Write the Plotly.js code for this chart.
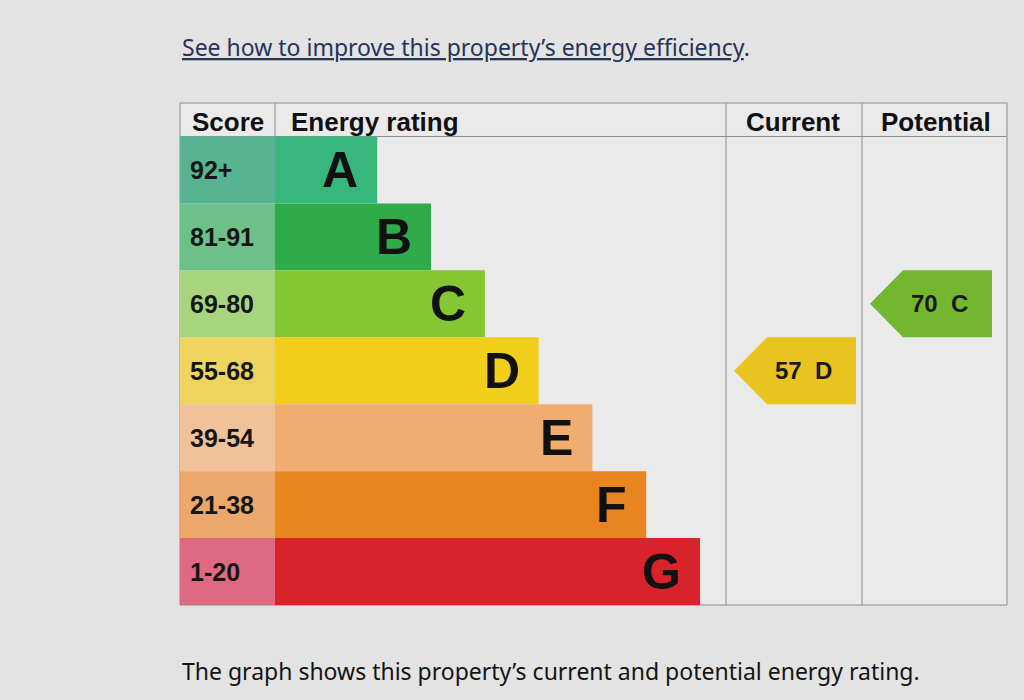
<!DOCTYPE html>
<html>
<head>
<meta charset="utf-8">
<script src="https://cdn.plot.ly/plotly-3.0.1.min.js"></script>
<style>
  html, body { margin: 0; padding: 0; background: #e3e3e3; }
  #chart { width: 1024px; height: 700px; }
</style>
</head>
<body>
<div id="chart"></div>
<script>
// Energy rating bands, top (best) to bottom (worst)
const bands = ['A', 'B', 'C', 'D', 'E', 'F', 'G'];
const scoreRanges = ['92+', '81-91', '69-80', '55-68', '39-54', '21-38', '1-20'];
const bandMinScore = [92, 81, 69, 55, 39, 21, 1];
// relative bar length of each band (steps)
const barLengths = [1.9, 2.9, 3.9, 4.9, 5.9, 6.9, 7.9];
const scoreCell = [1, 1, 1, 1, 1, 1, 1];

const currentScore = 57;
const potentialScore = 70;

const headers = ['Score', 'Energy rating', 'Current', 'Potential'];
const linkText = 'See how to improve this property\u2019s energy efficiency';
const captionText = 'The graph shows this property\u2019s current and potential energy rating.';

// Colours as they appear in the photo
const ratingColors = ['#38b77c', '#2fab4a', '#85c733', '#f1cd1c', '#f1ad70', '#e9851f', '#d8232a'];
const scoreColors  = ['#58b393', '#6cc189', '#a7d57f', '#ecd45e', '#f1c19a', '#eba86a', '#de6a82'];
const arrowColors  = ['#34b075', '#2ca445', '#72b72d', '#e9c41e', '#eda86a', '#e3801e', '#d22228'];

const BOLD = 'Liberation Sans, Arial, sans-serif';
const BODY = 'Noto Sans, sans-serif';
const LINE = '#8c8c8c';

// column domains (paper fractions) and arrow geometry in px-units of the column axes
const D1 = 95 / 827, D2 = 546 / 827, D3 = 682 / 827;
const ARROW = { tip: 8, shoulder: 41, end: 130, textX: 77 };

function bandOf(score) {
    return bandMinScore.findIndex(m => score >= m);
}

function arrowTrace(score, xaxis) {
    const i = bandOf(score);
    return {
        type: 'scatter', mode: 'lines', xaxis: xaxis, yaxis: 'y',
        x: [ARROW.tip, ARROW.shoulder, ARROW.end, ARROW.end, ARROW.shoulder, ARROW.tip],
        y: [i, i - 0.5, i - 0.5, i + 0.5, i + 0.5, i],
        fill: 'toself', fillcolor: arrowColors[i],
        line: { width: 0 }, hoverinfo: 'skip', showlegend: false
    };
}

function arrowLabel(score, xref) {
    const i = bandOf(score);
    return {
        xref: xref, yref: 'y', x: ARROW.textX, y: i,
        text: '<b>' + score + '\u00a0\u00a0' + bands[i] + '</b>',
        showarrow: false, font: { family: BOLD, size: 24, color: '#1a1a1a' }
    };
}

const idx = bands.map((_, i) => i);

const traces = [
    {
        type: 'bar', orientation: 'h', xaxis: 'x', yaxis: 'y',
        x: scoreCell, y: idx, width: 1, base: 0,
        marker: { color: scoreColors, line: { width: 0 } },
        hoverinfo: 'skip', showlegend: false
    },
    {
        type: 'bar', orientation: 'h', xaxis: 'x2', yaxis: 'y',
        x: barLengths, y: idx, width: 1, base: 0,
        marker: { color: ratingColors, line: { width: 0 } },
        hoverinfo: 'skip', showlegend: false
    },
    arrowTrace(currentScore, 'x3'),
    arrowTrace(potentialScore, 'x4')
];

const annotations = [];
bands.forEach((b, i) => {
    annotations.push({
        xref: 'x', yref: 'y', x: 0, y: i, xanchor: 'left', xshift: 8,
        text: '<b>' + scoreRanges[i] + '</b>', showarrow: false,
        font: { family: BOLD, size: 25, color: '#161616' }
    });
    annotations.push({
        xref: 'x2', yref: 'y', x: barLengths[i], y: i, xanchor: 'right', xshift: -17,
        text: '<b>' + b + '</b>', showarrow: false,
        font: { family: BOLD, size: 50, color: '#111111' }
    });
});

// header row
const headFont = { family: BOLD, size: 26, color: '#111111' };
annotations.push(
    { xref: 'x', yref: 'y', x: 0.5, y: -0.75, yshift: -2, text: '<b>' + headers[0] + '</b>', showarrow: false, font: headFont },
    { xref: 'x2', yref: 'y', x: 0, y: -0.75, yshift: -2, xanchor: 'left', xshift: 14, text: '<b>' + headers[1] + '</b>', showarrow: false, font: headFont },
    { xref: 'x3', yref: 'y', x: 67, y: -0.75, yshift: -2, text: '<b>' + headers[2] + '</b>', showarrow: false, font: headFont },
    { xref: 'x4', yref: 'y', x: 74, y: -0.75, yshift: -2, text: '<b>' + headers[3] + '</b>', showarrow: false, font: headFont }
);

annotations.push(arrowLabel(currentScore, 'x3'), arrowLabel(potentialScore, 'x4'));

// link above and caption below the table
annotations.push(
    {
        xref: 'paper', yref: 'paper', x: 0, y: 1.111, xanchor: 'left', yanchor: 'middle',
        text: '<u>' + linkText + '</u>.', showarrow: false,
        font: { family: BODY, size: 23, color: '#26345a' }
    },
    {
        xref: 'paper', yref: 'paper', x: 0, y: -0.131, xanchor: 'left', yanchor: 'middle',
        text: captionText, showarrow: false,
        font: { family: BODY, size: 23, color: '#141414' }
    }
);

const shapes = [
    { type: 'rect', xref: 'paper', yref: 'paper', x0: 0, x1: 1, y0: 0, y1: 1, layer: 'below', line: { color: LINE, width: 1 } },
    { type: 'line', xref: 'paper', yref: 'y', x0: 0, x1: 1, y0: -0.5, y1: -0.5, layer: 'below', line: { color: LINE, width: 1 } },
    { type: 'line', xref: 'paper', yref: 'y', x0: D1, x1: D1, y0: -1, y1: -0.5, layer: 'below', line: { color: LINE, width: 1 } },
    { type: 'line', xref: 'paper', yref: 'paper', x0: D2, x1: D2, y0: 0, y1: 1, layer: 'below', line: { color: LINE, width: 1 } },
    { type: 'line', xref: 'paper', yref: 'paper', x0: D3, x1: D3, y0: 0, y1: 1, layer: 'below', line: { color: LINE, width: 1 } }
];

const hidden = { showgrid: false, zeroline: false, showticklabels: false, ticks: '', showline: false, fixedrange: true };

const layout = {
    width: 1024, height: 700,
    margin: { l: 180, r: 17, t: 103, b: 95, pad: 0 },
    paper_bgcolor: '#e3e3e3',
    plot_bgcolor: '#eaeaea',
    barmode: 'overlay',
    showlegend: false,
    hovermode: false,
    xaxis:  Object.assign({ domain: [0, D1], range: [0, 1], anchor: 'y' }, hidden),
    xaxis2: Object.assign({ domain: [D1, D2], range: [0, 451 / 53.8], anchor: 'y' }, hidden),
    xaxis3: Object.assign({ domain: [D2, D3], range: [0, 136], anchor: 'y' }, hidden),
    xaxis4: Object.assign({ domain: [D3, 1], range: [0, 145], anchor: 'y' }, hidden),
    yaxis:  Object.assign({ range: [6.5, -1], anchor: 'x' }, hidden),
    shapes: shapes,
    annotations: annotations
};

Plotly.newPlot('chart', traces, layout, { displayModeBar: false, staticPlot: true });
</script>
</body>
</html>
